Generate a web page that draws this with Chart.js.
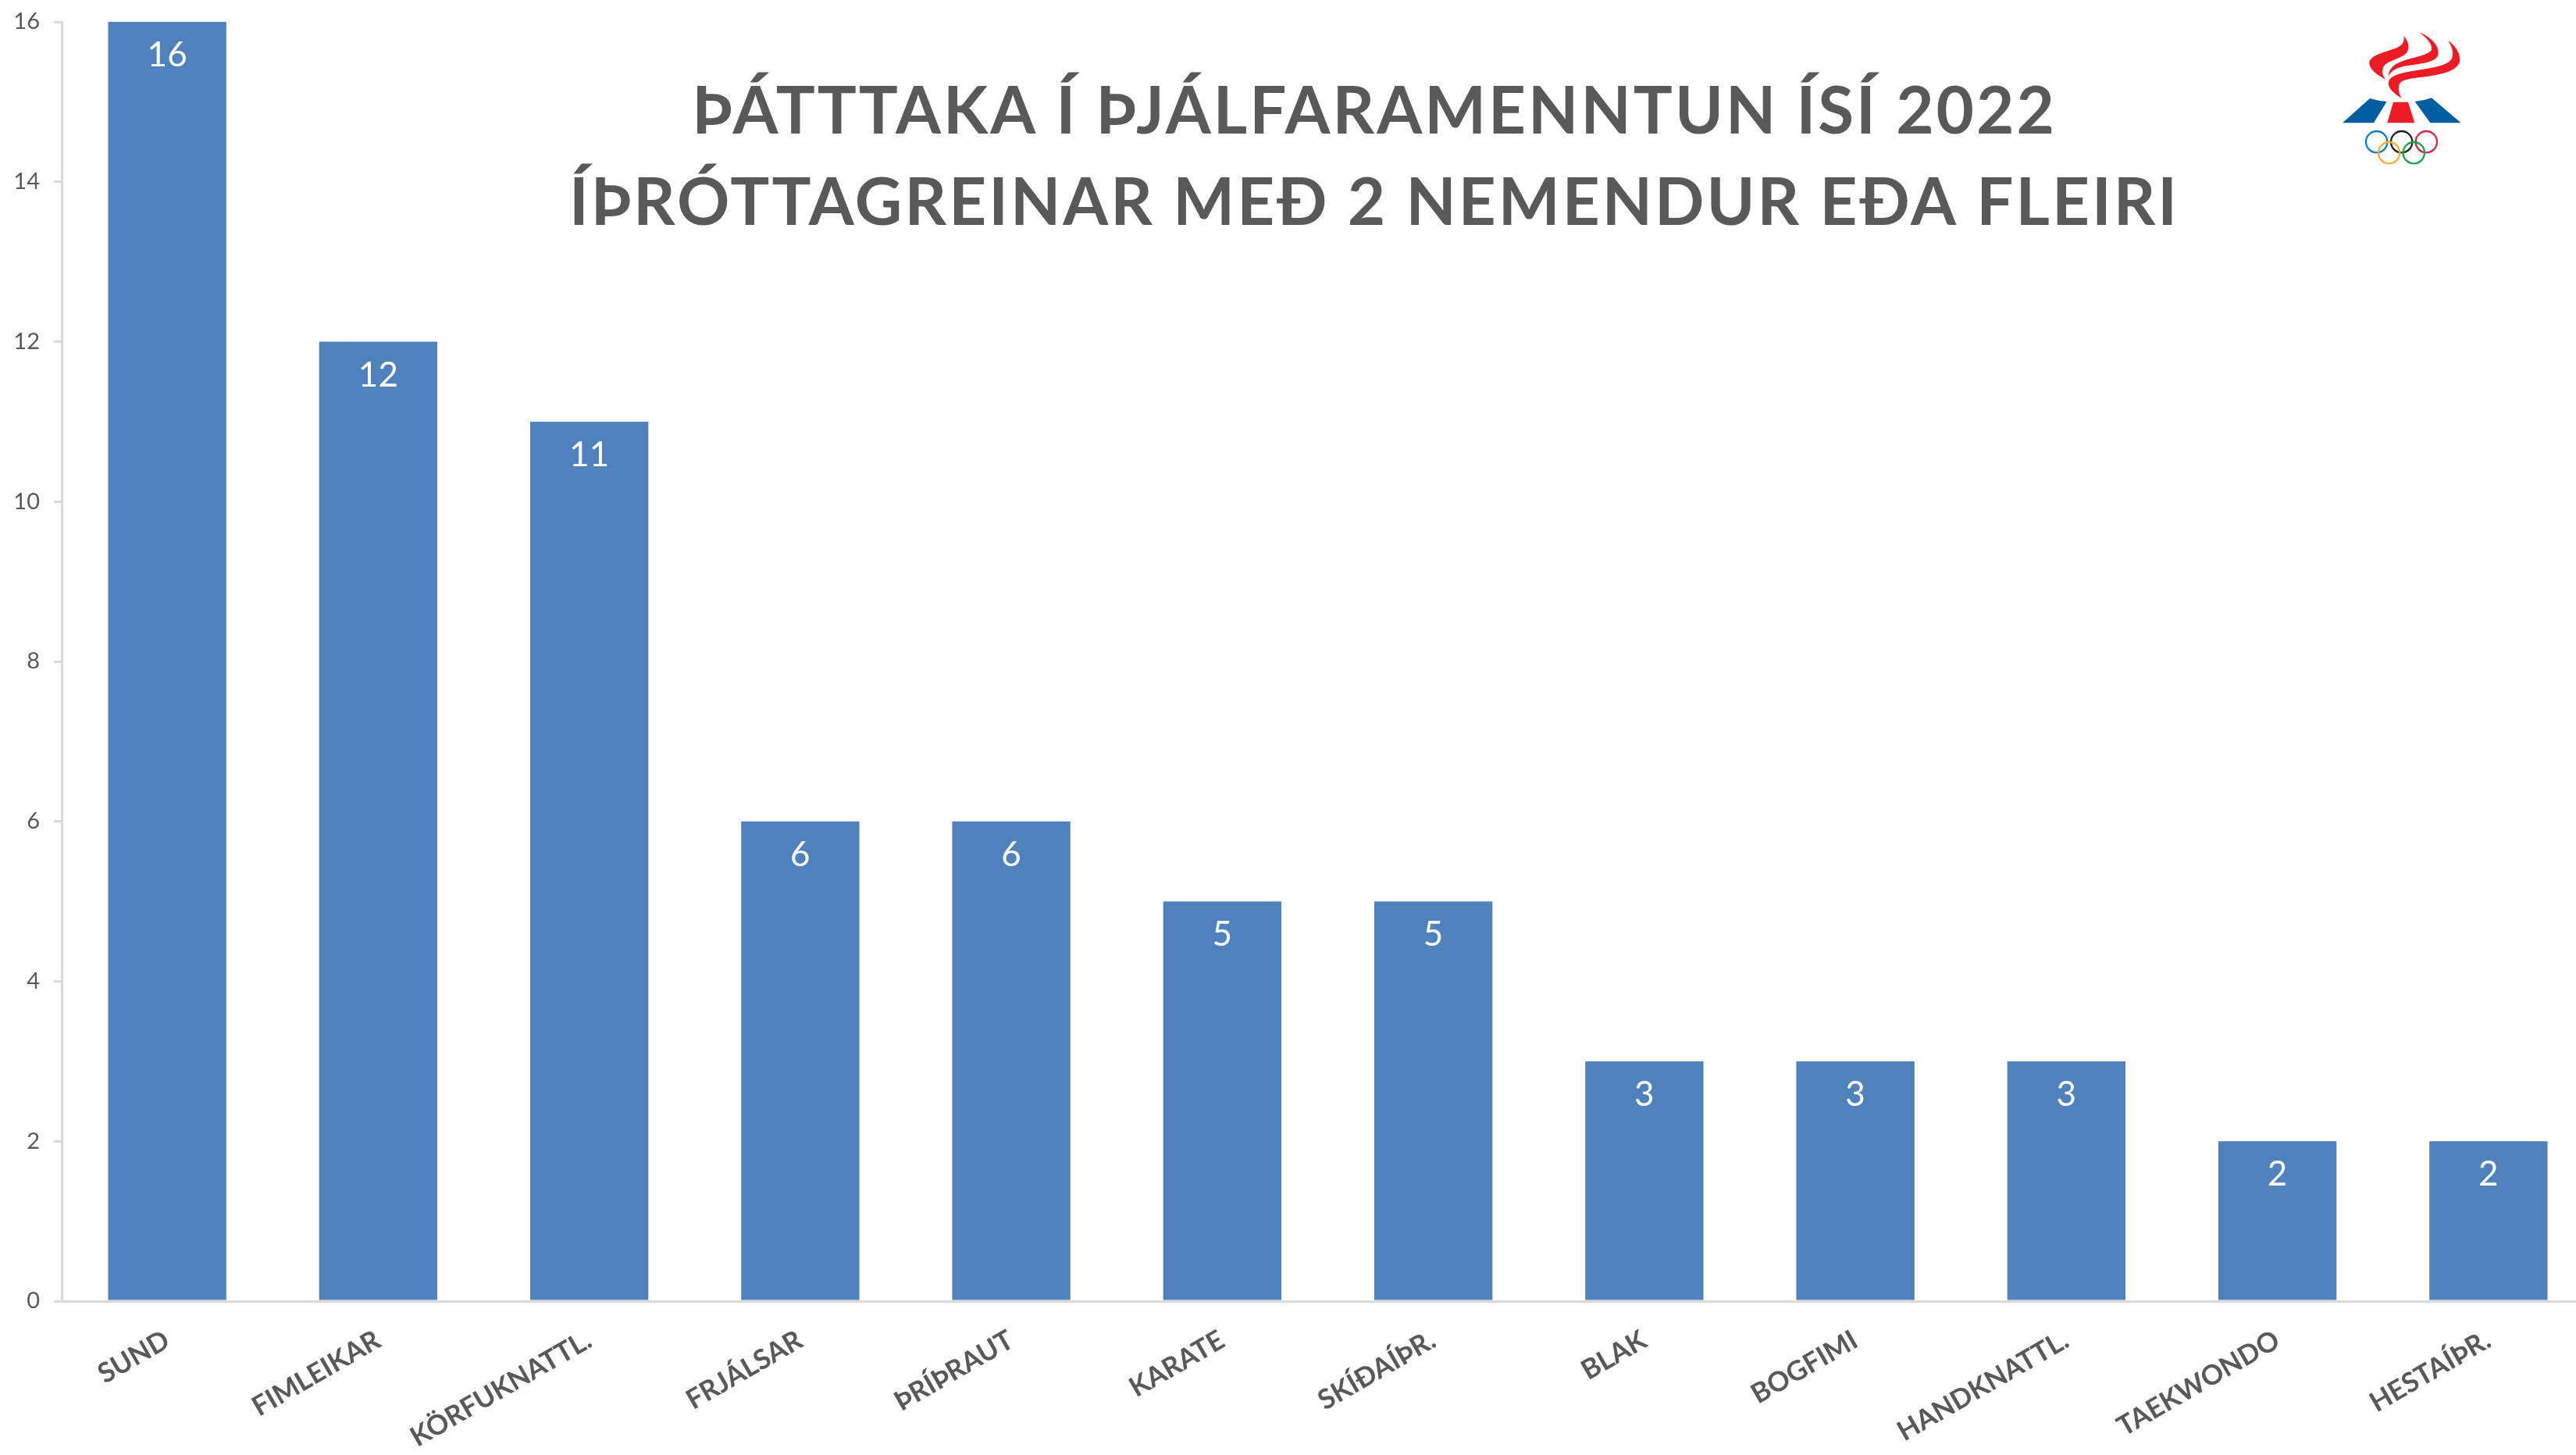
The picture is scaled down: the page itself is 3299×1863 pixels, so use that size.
<!DOCTYPE html>
<html lang="is">
<head>
<meta charset="utf-8">
<title>Þátttaka í þjálfaramenntun ÍSÍ 2022</title>
<script src="https://cdn.jsdelivr.net/npm/chart.js@4"></script>
<style>
    html, body { margin: 0; background: #fff; overflow: hidden; width: 3299px; height: 1863px; }
    #wrap { position: relative; width: 3299px; height: 1863px; overflow: hidden; }
    #chart { position: absolute; left: 0; top: 0; }
    #logo { position: absolute; left: 2900px; top: 0; }
</style>
</head>
<body>
<div id="wrap">
    <!-- the plot runs a little past the right edge, as in the picture -->
    <canvas id="chart" width="3322" height="1863"></canvas>
    <svg id="logo" width="399" height="240" viewBox="0 0 1197 720">
        <g fill="#ed1c24">
            <path d="M465 305C425 285 400 260 403 238C410 210 470 198 505 185C530 175 540 160 535 138C555 160 560 185 545 205C525 225 480 232 462 250C450 265 450 285 465 305Z"/>
            <path d="M477 292C478 265 495 248 530 235C570 220 620 215 640 195C650 178 630 150 595 124C645 145 675 180 667 212C655 240 600 245 550 252C510 258 488 270 477 292Z"/>
            <path d="M527 377C490 355 472 335 478 312C488 285 540 278 600 268C660 258 705 250 720 225C728 205 722 180 705 155C738 178 755 210 750 238C740 270 690 285 630 293C575 300 525 302 518 325C513 345 518 362 527 377Z"/>
            <path d="M472 472L495 392L552 392L577 472Z"/>
        </g>
        <g fill="#005ea1">
            <path d="M300 472L405 378Q438 388 470 390L420 472Z"/>
            <path d="M578 390Q610 388 642 376L755 472L637 472Z"/>
        </g>
        <g fill="none" stroke-width="7">
            <circle cx="431" cy="545" r="41" stroke="#0a81c2"/>
            <circle cx="527" cy="545" r="41" stroke="#222"/>
            <circle cx="622" cy="545" r="41" stroke="#d9234f"/>
            <circle cx="479" cy="587" r="41" stroke="#f2b134"/>
            <circle cx="574" cy="587" r="41" stroke="#1aa34a"/>
        </g>
    </svg>
</div>
<script>
    var titleLines = ['ÞÁTTTAKA Í ÞJÁLFARAMENNTUN ÍSÍ 2022', 'ÍÞRÓTTAGREINAR MEÐ 2 NEMENDUR EÐA FLEIRI'];
    var categories = ['SUND', 'FIMLEIKAR', 'KÖRFUKNATTL.', 'FRJÁLSAR', 'ÞRÍÞRAUT', 'KARATE', 'SKÍÐAÍÞR.', 'BLAK', 'BOGFIMI', 'HANDKNATTL.', 'TAEKWONDO', 'HESTAÍÞR.'];
    var students = [16, 12, 11, 6, 6, 5, 5, 3, 3, 3, 2, 2];

    var fontName = 'Lato, Carlito, sans-serif';
    var axisColor = '#d9d9d9';
    var textColor = '#595959';

    // white value inside the top of each bar
    var barValues = {
        id: 'barValues',
        afterDatasetsDraw: function (chart) {
            var ctx = chart.ctx;
            var bars = chart.getDatasetMeta(0).data;
            ctx.save();
            ctx.fillStyle = '#fff';
            ctx.font = '44px ' + fontName;
            ctx.textAlign = 'center';
            ctx.textBaseline = 'middle';
            bars.forEach(function (bar, i) {
                ctx.fillText(students[i], bar.x, bar.y + 43);
            });
            ctx.restore();
        }
    };

    var bigTitle = {
        id: 'bigTitle',
        afterDraw: function (chart) {
            var ctx = chart.ctx;
            ctx.save();
            ctx.fillStyle = textColor;
            ctx.font = 'bold 83.5px ' + fontName;
            ctx.letterSpacing = '3px';
            ctx.textAlign = 'center';
            ctx.textBaseline = 'middle';
            ctx.fillText(titleLines[0], 1760, 144);
            ctx.fillText(titleLines[1], 1760, 261);
            ctx.restore();
        }
    };

    new Chart(document.getElementById('chart'), {
        type: 'bar',
        data: {
            labels: categories,
            datasets: [{
                label: 'Nemendur',
                data: students,
                backgroundColor: '#4f81bd',
                barPercentage: 0.56,
                categoryPercentage: 1
            }]
        },
        options: {
            responsive: false,
            animation: false,
            layout: { padding: { top: 28 } },
            plugins: {
                legend: { display: false },
                title: { display: false },
                tooltip: { enabled: false }
            },
            scales: {
                x: {
                    afterFit: function (scale) { scale.height = 197; },
                    grid: { display: false },
                    border: { color: axisColor, width: 3 },
                    ticks: {
                        autoSkip: false,
                        minRotation: 30,
                        maxRotation: 30,
                        padding: 21,
                        color: textColor,
                        font: { family: fontName, size: 35, weight: 'bold' }
                    }
                },
                y: {
                    min: 0,
                    max: 16,
                    afterFit: function (scale) {
                        scale.width = 79;
                        scale.paddingTop = 0;
                        scale.paddingBottom = 0;
                    },
                    border: { color: axisColor, width: 3 },
                    grid: { drawOnChartArea: false, color: axisColor, lineWidth: 3, tickLength: 10 },
                    ticks: {
                        stepSize: 2,
                        padding: 18,
                        color: textColor,
                        font: { family: fontName, size: 29 }
                    }
                }
            }
        },
        plugins: [barValues, bigTitle]
    });
</script>
</body>
</html>
